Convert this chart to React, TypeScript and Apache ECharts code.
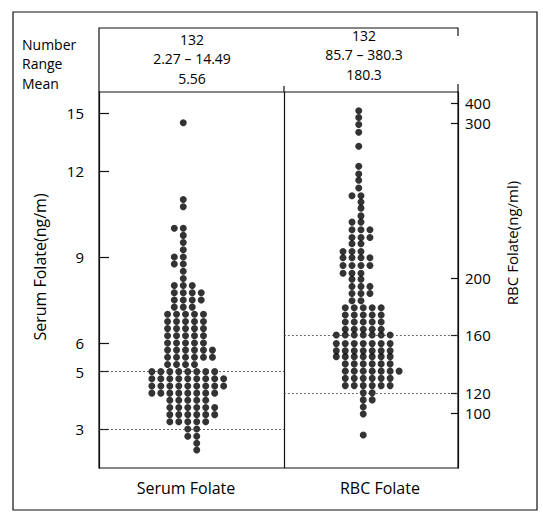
import React, { useEffect, useRef } from "react";
import * as echarts from "echarts";

// ---- axis definitions (tick values and where they sit on the shared vertical scale) ----
const serumTicks = [3, 5, 6, 9, 12, 15];
const serumTickPos = [3, 5, 6, 9, 12, 14.02];
const rbcTicks = [100, 120, 160, 200, 300, 400];
const rbcTickPos = [3.56, 4.26, 6.28, 8.27, 13.67, 14.37];

// ---- categories and header statistics ----
const categories = ["Serum Folate", "RBC Folate"];
const statNames = ["Number", "Range", "Mean"];
const counts = ["132", "132"];
const ranges = ["2.27 – 14.49", "85.7 – 380.3"];
const means = ["5.56", "180.3"];

// reference lines (in each panel's own unit)
const serumRefLines = [5, 3];
const rbcRefLines = [160, 120];

// ---- dot rows: [value, first column offset, number of dots] ----
const serumRows: [number, number, number][] = [
  [14.49, 0, 1],
  [11.0, 0, 1],
  [10.75, 0, 1],
  [10.0, -1, 2],
  [9.75, 0, 1],
  [9.5, 0, 1],
  [9.25, 0, 1],
  [9.0, -1, 2],
  [8.75, -1, 2],
  [8.5, 0, 1],
  [8.25, 0, 1],
  [8.0, -1, 3],
  [7.75, -1, 4],
  [7.5, -1, 4],
  [7.25, -1, 3],
  [7.0, -1.75, 5],
  [6.75, -1.75, 5],
  [6.5, -1.75, 5],
  [6.25, -1.75, 5],
  [6.0, -1.75, 5],
  [5.75, -1.75, 6],
  [5.5, -1.75, 6],
  [5.25, -1.75, 4],
  [5.0, -3.5, 8],
  [4.75, -3.5, 9],
  [4.5, -3.5, 9],
  [4.25, -3.5, 8],
  [4.0, -1.5, 5],
  [3.75, -1.5, 6],
  [3.5, -1.5, 6],
  [3.25, -1.5, 5],
  [3.0, 0.5, 2],
  [2.75, 0.5, 2],
  [2.5, 1.5, 1],
  [2.27, 1.5, 1],
];

const rbcRows: [number, number, number][] = [
  [361, -0.25, 1],
  [327, -0.25, 1],
  [299, -0.25, 1],
  [294, -0.25, 1],
  [285, -0.25, 1],
  [272, -0.25, 1],
  [267, -0.25, 1],
  [263, -0.25, 1],
  [258, -0.25, 1],
  [253, -1, 2],
  [249, 0, 1],
  [245, 0, 1],
  [240, 0, 1],
  [236, -1, 2],
  [231, -1, 3],
  [226, -1, 3],
  [222, -1, 2],
  [217, -2, 3],
  [213, -2, 4],
  [208, -2, 4],
  [203, -2, 3],
  [199, -1, 2],
  [194, -1, 3],
  [189, -1, 3],
  [184, -1, 2],
  [179, -1.75, 5],
  [174, -1.75, 5],
  [169, -1.75, 5],
  [164, -1.75, 5],
  [160, -2.75, 7],
  [154, -2.75, 7],
  [149, -2.75, 7],
  [145, -2.75, 7],
  [140, -1.75, 6],
  [135, -1.75, 7],
  [130, -1.75, 6],
  [125, -1.75, 6],
  [120, 0.25, 2],
  [113, 0.25, 2],
  [106, 0.25, 1],
  [99, 0.25, 1],
  [78, 0.25, 1],
];

// horizontal layout on the x value axis (1 unit = one dot spacing)
const X_MAX = 40;
const panelCenters = [9.39, 29.19];
const dividerX = 20.6;
const labelPos = [9.69, 31.3];

function interp(v: number, xs: number[], ys: number[]): number {
  let i = 0;
  if (v <= xs[0]) i = 0;
  else if (v >= xs[xs.length - 1]) i = xs.length - 2;
  else {
    while (i < xs.length - 2 && v > xs[i + 1]) i++;
  }
  const t = (v - xs[i]) / (xs[i + 1] - xs[i]);
  return ys[i] + t * (ys[i + 1] - ys[i]);
}

function buildDots(rows: [number, number, number][], center: number, xs: number[], ys: number[]) {
  const pts: number[][] = [];
  rows.forEach(([v, first, n]) => {
    const u = interp(v, xs, ys);
    for (let i = 0; i < n; i++) pts.push([center + first + i, u]);
  });
  return pts;
}

function labelFor(v: number, pos: number[], labels: (number | string)[]) {
  for (let j = 0; j < pos.length; j++) if (Math.abs(pos[j] - v) < 1e-6) return String(labels[j]);
  return "";
}

const FONT = "'Open Sans', 'Noto Sans', sans-serif";

export default function App() {
  const ref = useRef<HTMLDivElement>(null);
  useEffect(() => {
    if (!ref.current) return;
    const chart = echarts.init(ref.current, undefined, { renderer: "svg" });
    const serumDots = buildDots(serumRows, panelCenters[0], serumTicks, serumTickPos);
    const rbcDots = buildDots(rbcRows, panelCenters[1], rbcTicks, rbcTickPos);
    const su = (v: number) => interp(v, serumTicks, serumTickPos);
    const ru = (v: number) => interp(v, rbcTicks, rbcTickPos);
    const refStyle = { color: "#444", width: 0.8, type: [2, 2] as any };

    const textStyle = { fill: "#000", font: `14px ${FONT}` };
    const graphics: any[] = [
      {
        type: "rect",
        shape: { x: 13, y: 12, width: 524, height: 498 },
        style: { fill: "none", stroke: "#111", lineWidth: 1.2 },
      },
      {
        type: "polyline",
        shape: { points: [[99, 92], [99, 28], [458, 28], [458, 36]] },
        style: { fill: "none", stroke: "#111", lineWidth: 1.2 },
      },
      {
        type: "line",
        shape: { x1: 284, y1: 86, x2: 284, y2: 92 },
        style: { stroke: "#111", lineWidth: 1.2 },
      },
      {
        type: "line",
        shape: { x1: 458, y1: 84, x2: 458, y2: 92 },
        style: { stroke: "#111", lineWidth: 1.2 },
      },
    ];
    const STEP = 19.5;
    statNames.forEach((s, i) =>
      graphics.push({
        type: "text",
        x: 22,
        y: 44 + i * STEP,
        style: { ...textStyle, text: s, align: "left", verticalAlign: "middle" },
      })
    );
    const colX = [192, 364];
    const colTop = [39, 35];
    [0, 1].forEach((c) => {
      [counts[c], ranges[c], means[c]].forEach((t, i) =>
        graphics.push({
          type: "text",
          x: colX[c],
          y: colTop[c] + i * STEP,
          style: { ...textStyle, text: t, align: "center", verticalAlign: "middle" },
        })
      );
    });
    graphics.push({
      type: "text",
      x: 40,
      y: 267,
      rotation: Math.PI / 2,
      style: { ...textStyle, font: `16px ${FONT}`, text: "Serum Folate(ng/m)", align: "center", verticalAlign: "middle" },
    });
    graphics.push({
      type: "text",
      x: 512,
      y: 243,
      rotation: Math.PI / 2,
      style: { ...textStyle, font: `15px ${FONT}`, text: "RBC Folate(ng/ml)", align: "center", verticalAlign: "middle" },
    });

    const yMin = 1.64;
    const yMax = 14.75;

    chart.setOption({
      animation: false,
      grid: {
        left: 99,
        right: 85,
        top: 92,
        bottom: 47,
        show: true,
        borderColor: "#111",
        borderWidth: 1.2,
        backgroundColor: "transparent",
      },
      xAxis: {
        type: "value",
        min: 0,
        max: X_MAX,
        axisLine: { show: false },
        axisTick: { show: false },
        splitLine: { show: false },
        axisLabel: {
          customValues: labelPos,
          formatter: (v: number) => labelFor(v, labelPos, categories),
          margin: 12,
          color: "#000",
          fontSize: 16,
          fontFamily: FONT,
        },
      },
      yAxis: [
        {
          type: "value",
          position: "left",
          min: yMin,
          max: yMax,
          splitLine: { show: false },
          axisLine: { show: true, lineStyle: { color: "#111", width: 1.2 } },
          axisTick: { show: true, inside: true, length: 10, customValues: serumTickPos, lineStyle: { color: "#111", width: 1.2 } },
          axisLabel: {
            customValues: serumTickPos,
            formatter: (v: number) => labelFor(v, serumTickPos, serumTicks),
            margin: 15,
            color: "#000",
            fontSize: 15,
            fontFamily: FONT,
          },
        },
        {
          type: "value",
          position: "right",
          min: yMin,
          max: yMax,
          splitLine: { show: false },
          axisLine: { show: true, lineStyle: { color: "#111", width: 1.2 } },
          axisTick: { show: true, inside: true, length: 7, customValues: rbcTickPos, lineStyle: { color: "#111", width: 1.2 } },
          axisLabel: {
            customValues: rbcTickPos,
            formatter: (v: number) => labelFor(v, rbcTickPos, rbcTicks),
            margin: 7,
            color: "#000",
            fontSize: 15,
            fontFamily: FONT,
          },
        },
      ],
      series: [
        {
          name: categories[0],
          type: "scatter",
          symbol: "circle",
          symbolSize: 7,
          itemStyle: { color: "#000" },
          data: serumDots,
          markLine: {
            silent: true,
            symbol: "none",
            label: { show: false },
            lineStyle: refStyle,
            data: [
              ...serumRefLines.map((v) => [
                { coord: [0, su(v)] },
                { coord: [dividerX, su(v)] },
              ]),
              { xAxis: dividerX, lineStyle: { color: "#111", width: 1.2, type: "solid" } },
            ],
          },
        },
        {
          name: categories[1],
          type: "scatter",
          symbol: "circle",
          symbolSize: 7,
          itemStyle: { color: "#000" },
          data: rbcDots,
          markLine: {
            silent: true,
            symbol: "none",
            label: { show: false },
            lineStyle: refStyle,
            data: rbcRefLines.map((v) => [
              { coord: [dividerX, ru(v)] },
              { coord: [X_MAX, ru(v)] },
            ]),
          },
        },
      ],
      graphic: graphics,
    });
    return () => chart.dispose();
  }, []);
  return (
    <div
      ref={ref}
      style={{ position: "fixed", left: 0, top: 0, width: 543, height: 515, background: "#fff" }}
    />
  );
}
